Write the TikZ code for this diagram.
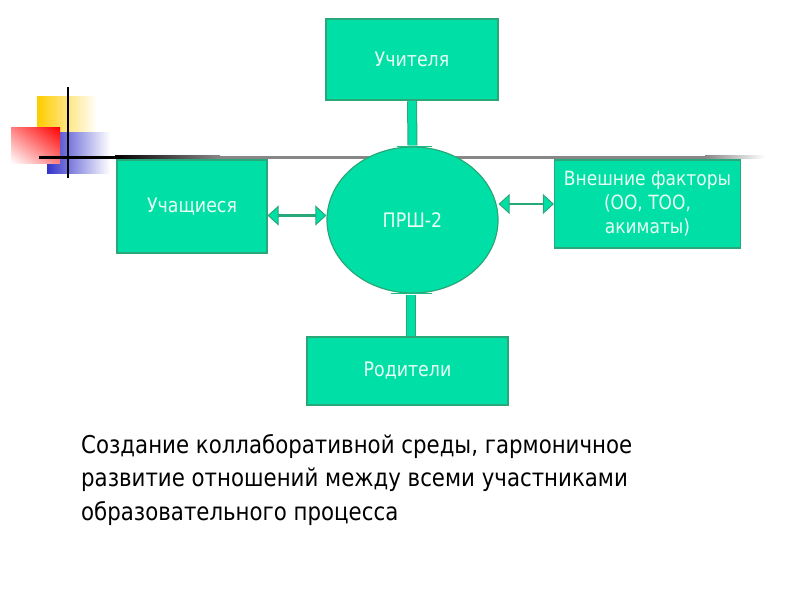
\documentclass[tikz,border=0pt]{standalone}
\usepackage{fontspec}
\setmainfont{DejaVu Sans}[FakeStretch=0.87]
\usetikzlibrary{shapes.geometric,arrows.meta,shadings}
\definecolor{mint}{RGB}{0,224,166}
\definecolor{edge}{RGB}{40,168,120}
\definecolor{lbl}{RGB}{232,255,244}
\definecolor{dyellow}{RGB}{255,204,0}
\definecolor{dred}{RGB}{255,0,0}
\definecolor{dblue}{RGB}{51,51,204}
\definecolor{lgray}{RGB}{135,135,135}
\tikzset{
  box/.style={draw=edge, line width=1.2pt, fill=mint, text=lbl, font=\fontsize{20}{24}\selectfont, align=center, inner sep=0pt},
  smalltext/.style={font=\fontsize{19.6}{24}\selectfont},
  stem/.style={draw=edge, line width=1pt, double=mint, double distance=8pt},
  capline/.style={draw=edge!70!mint, line width=1pt},
  dblarrow/.style={draw=edge, line width=2.5pt, {Triangle[length=11pt,width=20pt,fill=mint,line width=1pt]}-{Triangle[length=11pt,width=20pt,fill=mint,line width=1pt]}},
}
\begin{document}
\begin{tikzpicture}[x=1pt,y=-1pt]
\useasboundingbox (0,0) rectangle (800,600);
\fill[white] (0,0) rectangle (800,600);
% decoration
\shade[left color=dyellow, middle color=dyellow, right color=white] (37,96) rectangle (97,134);
\shade[left color=dblue, middle color=dblue!90!white, right color=white] (47,132) rectangle (110,173);
\shade[upper right=dred, lower left=white, upper left=dred!50!white, lower right=dred!50!white] (11,127) rectangle (60,163);
% horizontal line
\fill[black] (39,155.5) rectangle (115,158.5);
\shade[left color=black, right color=lgray] (115,155.5) rectangle (220,158.5);
\fill[lgray] (220,155.5) rectangle (705,158.5);
\shade[left color=lgray, right color=white] (705,155.5) rectangle (765,158.5);
\draw[line width=2pt] (68,87) -- (68,178);
% nodes
\node[box, minimum width=172pt, minimum height=81pt] (top) at (412,59.5) {Учителя};
\node[box, ellipse, minimum width=171pt, minimum height=146pt] (circ) at (412.5,220) {ПРШ-2};
\node[box, minimum width=150pt, minimum height=93pt] (left) at (192,206.5) {Учащиеся};
\node[box, smalltext, minimum width=186pt, minimum height=88pt] (right) at (647.5,204) {Внешние факторы\\(ОО, ТОО,\\акиматы)};
\node[box, minimum width=201pt, minimum height=68pt] (bot) at (407.5,371) {Родители};
% connectors
\draw[stem] ([yshift=-0.6pt]top.south) -- ([yshift=1pt]circ.north);
\draw[capline] ([xshift=-16pt,yshift=-0.5pt]circ.north) -- ([xshift=19pt,yshift=-0.5pt]circ.north);
\draw[stem] ([yshift=-1pt,xshift=-1.5pt]circ.south) -- ([xshift=-1.5pt,yshift=0.6pt]circ.south |- bot.north);
\draw[capline] ([xshift=-22pt,yshift=0.5pt]circ.south) -- ([xshift=19pt,yshift=0.5pt]circ.south);
\coordinate (la) at ([yshift=-9pt]left.east);
\draw[dblarrow] (la) -- (la -| circ.west);
\draw[dblarrow] (right.west) -- (right.west -| circ.east);
% caption
\node[anchor=base west, align=left, inner sep=0pt, font=\fontsize{24.5}{33.5}\selectfont] (cap) at (81,520) {Создание коллаборативной среды, гармоничное\\развитие отношений между всеми участниками\\образовательного процесса};
\end{tikzpicture}
\end{document}
